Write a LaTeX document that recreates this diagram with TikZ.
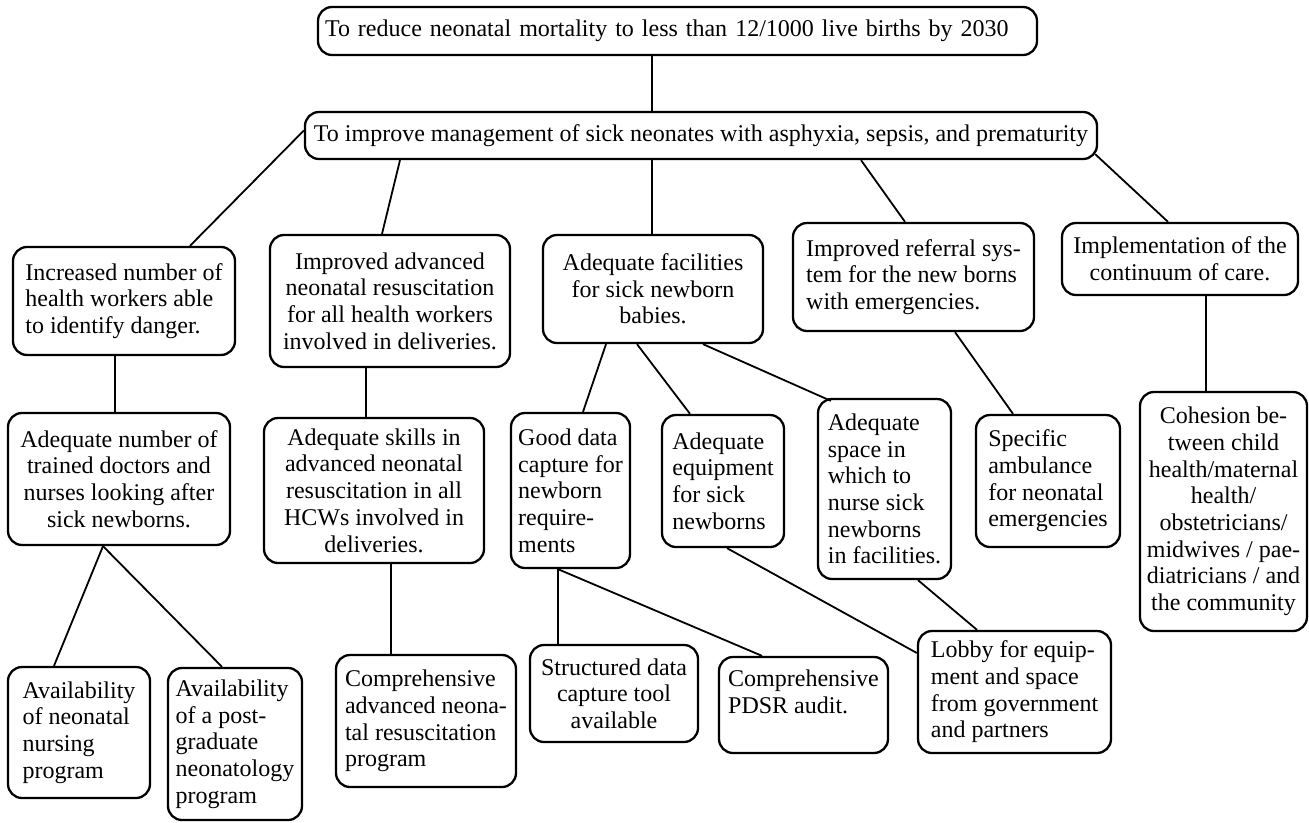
\documentclass[tikz,border=0pt]{standalone}
\usepackage{fontspec}
\setmainfont{Liberation Serif}
\begin{document}
\begin{tikzpicture}[x=1pt,y=-1pt,
  box/.style={draw, rounded corners=14pt, line width=2.3pt, inner sep=0pt,
    font=\fontsize{24pt}{26.7pt}\selectfont},
  lb/.style={box, align=left},
  cb/.style={box, align=center},
  conn/.style={line width=1.8pt}]
\fill[white] (0,0) rectangle (1309,822);
\useasboundingbox (0,0) rectangle (1309,822);
% level 1-2
\node[box, align=left, text width=705pt, inner xsep=7pt, minimum height=48pt] (T0) at (677.5,31) {To reduce neonatal mortality to less than 12/1000 live births by 2030};
\node[cb, minimum width=792pt, minimum height=47pt] (T1) at (701,135.5) {To improve management of sick neonates with asphyxia, sepsis, and prematurity};
% level 3
\node[lb, minimum width=222pt, minimum height=108pt] (B1) at (124,301) {Increased number of\\health workers able\\to identify danger.};
\node[cb, minimum width=240pt, minimum height=132pt] (B2) at (390,301) {Improved advanced\\neonatal resuscitation\\for all health workers\\involved in deliveries.};
\node[cb, minimum width=220pt, minimum height=108pt] (B3) at (653,289) {Adequate facilities\\for sick newborn\\babies.};
\node[lb, minimum width=241pt, minimum height=108pt] (B4) at (913.5,277) {Improved referral sys-\\tem for the new borns\\with emergencies.};
\node[cb, minimum width=236pt, minimum height=72pt] (B5) at (1180,259) {Implementation of the\\continuum of care.};
% level 4
\node[cb, minimum width=222pt, minimum height=132pt] (C1) at (119,479) {Adequate number of\\trained doctors and\\nurses looking after\\sick newborns.};
\node[cb, minimum width=220pt, minimum height=145pt] (C2) at (374,490.5) {Adequate skills in\\advanced neonatal\\resuscitation in all\\HCWs involved in\\deliveries.};
\node[lb, minimum width=119pt, minimum height=155pt] (C3) at (570.5,490.5) {Good data\\capture for\\newborn\\require-\\ments};
\node[lb, minimum width=122pt, minimum height=132pt] (C4) at (723,481) {Adequate\\equipment\\for sick\\newborns};
\node[lb, minimum width=133pt, minimum height=180pt] (C5) at (884.5,489) {Adequate\\space in\\which to\\nurse sick\\newborns\\in facilities.};
\node[lb, minimum width=144pt, minimum height=132pt] (C6) at (1048,481) {Specific\\ambulance\\for neonatal\\emergencies};
\node[cb, minimum width=167pt, minimum height=239pt] (C7) at (1223.5,511.5) {Cohesion be-\\tween child\\health/maternal\\health/\\obstetricians/\\midwives / pae-\\diatricians / and\\the community};
% level 5
\node[lb, minimum width=142pt, minimum height=131pt] (D1) at (79,732.5) {Availability\\of neonatal\\nursing\\program};
\node[lb, minimum width=134pt, minimum height=152pt] (D2) at (235,744) {Availability\\of a post-\\graduate\\neonatology\\program};
\node[lb, minimum width=180pt, minimum height=132pt] (D3) at (426,721) {Comprehensive\\advanced neona-\\tal resuscitation\\program};
\node[cb, minimum width=168pt, minimum height=97pt] (D4) at (614,693.5) {Structured data\\capture tool\\available};
\node[lb, minimum width=169pt, minimum height=96pt] (D5) at (803.5,705) {Comprehensive\\PDSR audit.\\\mbox{}};
\node[lb, minimum width=193pt, minimum height=122pt] (D6) at (1014.5,692) {Lobby for equip-\\ment and space\\from government\\and partners};
% connectors
\draw[conn] ([xshift=-25.5pt]T0.south) -- ([xshift=-49pt]T1.north);
\draw[conn] ([yshift=5pt]T1.west) -- ([xshift=66pt]B1.north);
\draw[conn] ([xshift=-301pt]T1.south) -- ([xshift=-8pt]B2.north);
\draw[conn] ([xshift=-49pt]T1.south) -- ([xshift=-1pt]B3.north);
\draw[conn] ([xshift=160pt]T1.south) -- ([xshift=-8.5pt]B4.north);
\draw[conn] ([xshift=-3pt,yshift=6pt]T1.south east) -- ([xshift=-12pt]B5.north);
\draw[conn] ([xshift=-9pt]B1.south) -- ([xshift=-4pt]C1.north);
\draw[conn] ([xshift=-24pt]B2.south) -- ([xshift=-8pt]C2.north);
\draw[conn] ([xshift=-47pt]B3.south) -- ([xshift=12.5pt]C3.north);
\draw[conn] ([xshift=-16pt]B3.south) -- ([xshift=-33pt]C4.north);
\draw[conn] ([xshift=50pt]B3.south) -- ([xshift=14pt,yshift=-3pt]C5.north west);
\draw[conn] ([xshift=41.5pt]B4.south) -- ([xshift=-35pt]C6.north);
\draw[conn] ([xshift=26pt]B5.south) -- ([xshift=-17.5pt]C7.north);
\draw[conn] ([xshift=-16pt]C1.south) -- ([xshift=-25pt]D1.north);
\draw[conn] ([xshift=-16pt]C1.south) -- ([xshift=-13pt]D2.north);
\draw[conn] ([xshift=17pt]C2.south) -- ([xshift=-35pt]D3.north);
\draw[conn] ([xshift=-12.5pt]C3.south) -- ([xshift=-56pt]D4.north);
\draw[conn] ([xshift=-12.5pt]C3.south) -- ([xshift=-41.5pt]D5.north);
\draw[conn] ([xshift=4pt]C4.south) -- ([yshift=39pt]D6.west);
\draw[conn] ([xshift=33.5pt]C5.south) -- ([xshift=-37.5pt]D6.north);
\end{tikzpicture}
\end{document}
